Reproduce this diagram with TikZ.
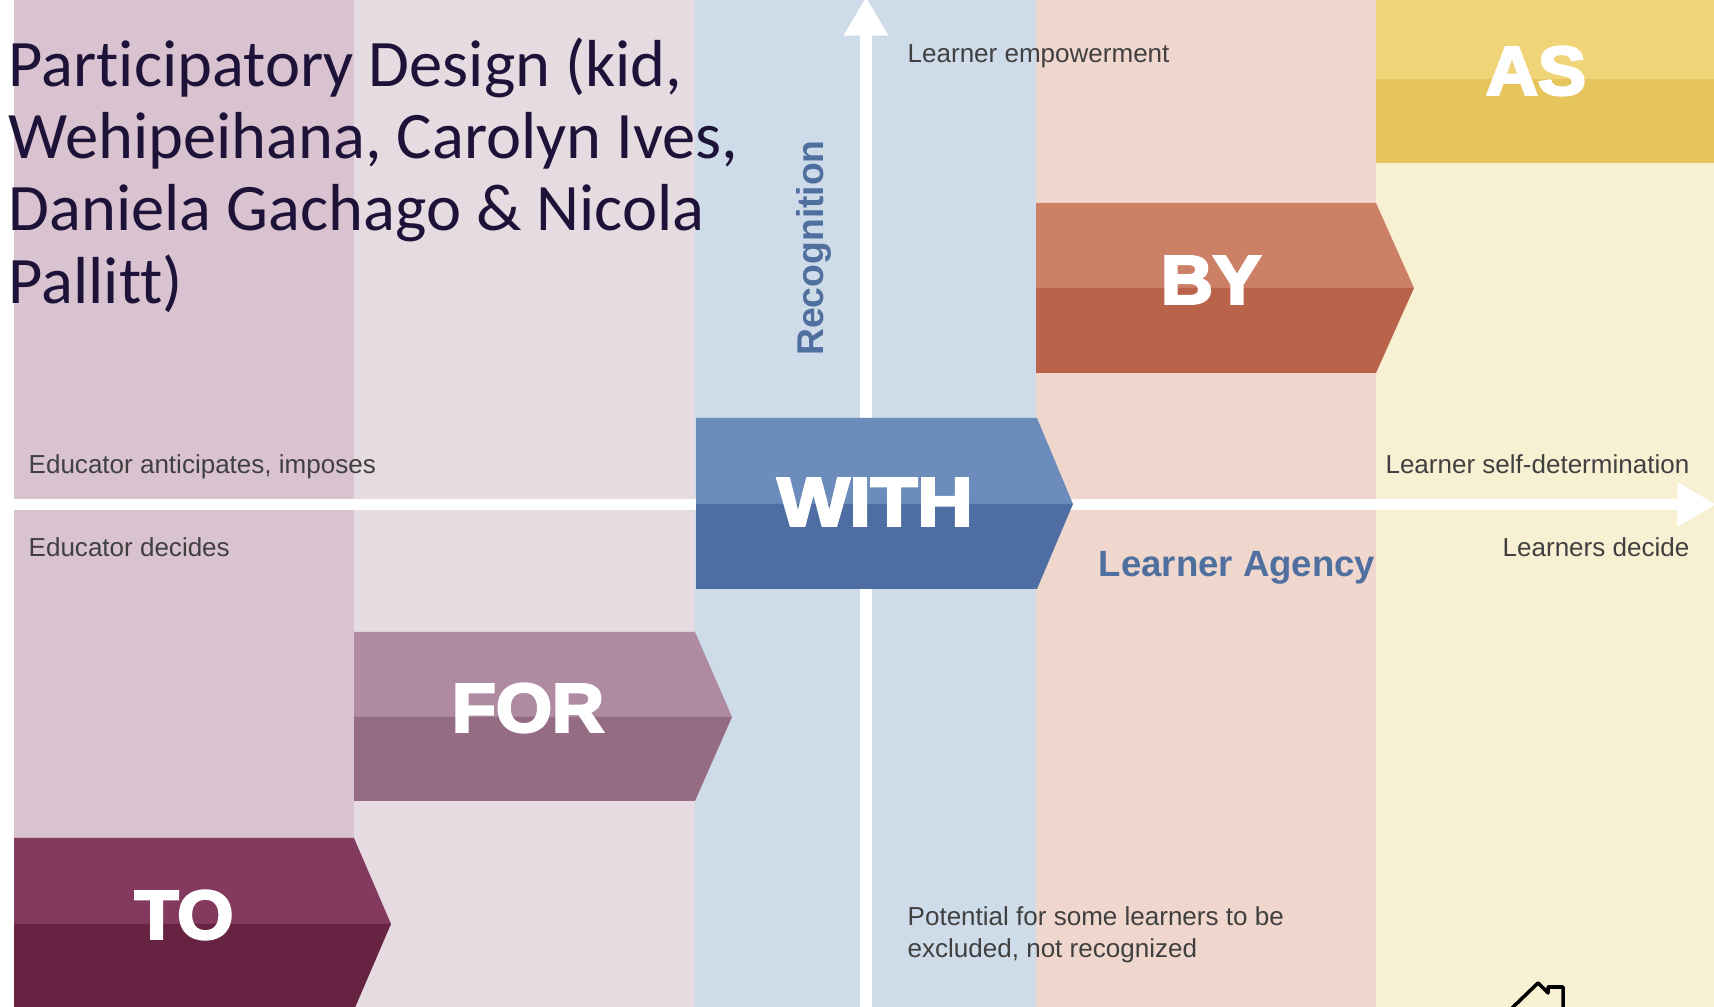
\documentclass[tikz,border=0pt]{standalone}
\usepackage{fontspec}
\usetikzlibrary{arrows.meta}
\setmainfont{Liberation Sans}
\newfontfamily\titlefont[Ligatures=NoCommon]{Carlito}
\newfontfamily\heavyfont[FakeBold=4,FakeStretch=1.05]{Liberation Sans Bold}
\definecolor{titleink}{HTML}{1D1238}
\definecolor{noteink}{HTML}{404040}
\definecolor{axisink}{HTML}{4F6F9F}
\tikzset{
  band/.style={draw=none},
  axis/.style={draw=white,line width=3.2pt},
  note/.style={text=noteink,font=\fontsize{7.4}{9.1}\selectfont,inner sep=0pt},
  axislabel/.style={text=axisink,font=\bfseries\fontsize{10.6}{12}\selectfont,inner sep=0pt},
  word/.style={text=white,font=\heavyfont\fontsize{19.5}{24}\selectfont,inner sep=0pt},
}
\begin{document}
\begin{tikzpicture}[x=0.01cm,y=-0.01cm]
  \useasboundingbox (0,0) rectangle (1714,1007);
  \clip (0,0) rectangle (1714,1007);
  % columns
  \fill[white] (0,0) rectangle (1714,1007);
  \fill[band,fill={rgb,255:red,217;green,195;blue,208}] (14,0) rectangle (354,1007);
  \fill[band,fill={rgb,255:red,231;green,219;blue,226}] (354,0) rectangle (695,1007);
  \fill[band,fill={rgb,255:red,206;green,219;blue,232}] (695,0) rectangle (1036,1007);
  \fill[band,fill={rgb,255:red,239;green,215;blue,206}] (1036,0) rectangle (1376,1007);
  \fill[band,fill={rgb,255:red,248;green,240;blue,210}] (1376,0) rectangle (1714,1007);
  % axes
  \coordinate (AxisW) at (14,504.5);
  \coordinate (AxisE) at (1716,504.5);
  \coordinate (AxisS) at (866,1010);
  \coordinate (AxisN) at (866,-3);
  \draw[axis,-{Triangle[length=11pt,width=12pt]}] (AxisW) -- (AxisE);
  \draw[axis,-{Triangle[length=11pt,width=12pt]}] (AxisS) -- (AxisN);
  % TO
  \fill[fill={rgb,255:red,132;green,57;blue,95}] (14,838) -- (354,838) -- (391,924) -- (14,924) -- cycle;
  \fill[fill={rgb,255:red,102;green,35;blue,66}] (14,924) -- (391,924) -- (354,1010) -- (14,1010) -- cycle;
  \node[word] (TO) at (184,915) {TO};
  % FOR
  \fill[fill={rgb,255:red,174;green,139;blue,161}] (354,632) -- (695,632) -- (732,717) -- (354,717) -- cycle;
  \fill[fill={rgb,255:red,148;green,108;blue,131}] (354,717) -- (732,717) -- (695,801) -- (354,801) -- cycle;
  \node[word] (FOR) at (528,708) {FOR};
  % WITH
  \fill[fill={rgb,255:red,108;green,141;blue,188}] (696,418) -- (1037,418) -- (1073,504) -- (696,504) -- cycle;
  \fill[fill={rgb,255:red,78;green,109;blue,163}] (696,504) -- (1073,504) -- (1037,589) -- (696,589) -- cycle;
  \node[word,xscale=1.06] (WITH) at (875,502) {WITH};
  % BY
  \fill[fill={rgb,255:red,204;green,129;blue,103}] (1036,203) -- (1376,203) -- (1414,288) -- (1036,288) -- cycle;
  \fill[fill={rgb,255:red,185;green,100;blue,74}] (1036,288) -- (1414,288) -- (1376,373) -- (1036,373) -- cycle;
  \node[word] (BY) at (1211,280) {BY};
  % AS
  \fill[fill={rgb,255:red,239;green,213;blue,119}] (1376,0) rectangle (1714,79);
  \fill[fill={rgb,255:red,228;green,196;blue,91}] (1376,79) rectangle (1714,163);
  \node[word] (AS) at (1536,71) {AS};
  % notes
  \node[note,anchor=base west] (Imposes) at (28,474) {Educator anticipates, imposes};
  \node[note,anchor=base west] (Decides) at (28,556.5) {Educator decides};
  \node[note,anchor=base east] (Self) at (1690,474) {Learner self-determination};
  \node[note,anchor=base east] (LearnersDecide) at (1690,556.5) {Learners decide};
  \node[note,anchor=base west] (Empower) at (907,63) {Learner empowerment};
  \node[note,anchor=west,align=left] (Excluded) at (907,935) {Potential for some learners to be\\excluded, not recognized};
  \node[axislabel,anchor=east,font=\bfseries\fontsize{10.4}{12}\selectfont] (Agency) at (1376,568) {Learner Agency};
  \node[axislabel,rotate=90] (Recognition) at (814,248) {Recognition};
  % house
  \draw[black,line width=1pt,line join=round] (1510,1010) -- (1538,983) -- (1548,993) -- (1548,987) -- (1563,987) -- (1563,1010);
  % title
  \node[anchor=north west,align=left,inner sep=0pt,text=titleink,font=\titlefont\fontsize{18.9}{20.5}\selectfont] (Title) at (8,37.5) {Participatory Design (kid,\\Wehipeihana, Carolyn Ives,\\Daniela Gachago \& Nicola\\Pallitt)};
\end{tikzpicture}
\end{document}
